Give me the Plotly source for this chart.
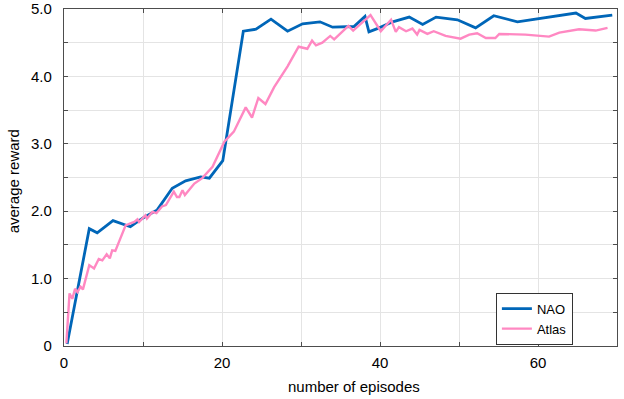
import plotly.graph_objects as go

nao_x = [0.4, 3.2, 4.2, 6.2, 8.4, 10.0, 11.8, 13.7, 15.4, 17.3, 18.4, 20.1, 22.7, 24.3, 26.2, 28.3, 30.2,
         32.4, 34.0, 36.7, 38.1, 38.6, 39.9, 41.6, 43.7, 45.4, 47.1, 49.8, 52.1, 54.4, 57.4, 64.8, 66.0, 69.4]
nao_y = [0.03, 1.74, 1.68, 1.86, 1.77, 1.90, 2.02, 2.34, 2.45, 2.51, 2.49, 2.75, 4.67, 4.70, 4.85, 4.67, 4.78,
         4.81, 4.73, 4.74, 4.89, 4.66, 4.72, 4.81, 4.88, 4.77, 4.88, 4.84, 4.72, 4.90, 4.81, 4.94, 4.86, 4.91]

atlas_x = [0.3, 0.7, 1.05, 1.4, 1.7, 2.1, 2.4, 3.2, 3.8, 4.4, 4.85, 5.4, 5.8, 6.1, 6.5, 7.8, 8.4, 8.9, 9.3, 9.5,
           10.3, 10.5, 11.2, 11.7, 12.4, 12.9, 13.9, 14.3, 14.6, 15.0, 15.3, 16.5, 17.5, 18.8, 20.3, 21.5, 23.0,
           23.8, 24.6, 25.5, 26.6, 28.3, 29.7, 30.8, 31.4, 31.9, 32.7, 33.7, 34.2, 36.0, 36.6, 38.8, 40.1, 41.4,
           42.0, 42.4, 43.3, 44.1, 44.7, 45.0, 46.0, 46.8, 48.3, 50.2, 51.3, 52.3, 53.4, 54.6, 55.1, 58.4, 61.4,
           62.7, 65.2, 67.3, 68.8]
atlas_y = [0.04, 0.78, 0.70, 0.85, 0.80, 0.88, 0.84, 1.20, 1.15, 1.29, 1.27, 1.36, 1.30, 1.42, 1.41, 1.79, 1.82,
           1.84, 1.88, 1.84, 1.94, 1.89, 1.99, 1.97, 2.07, 2.09, 2.29, 2.21, 2.21, 2.31, 2.24, 2.41, 2.49, 2.66,
           3.03, 3.18, 3.54, 3.39, 3.68, 3.59, 3.84, 4.15, 4.44, 4.41, 4.53, 4.46, 4.50, 4.60, 4.55, 4.75, 4.68,
           4.91, 4.67, 4.84, 4.66, 4.73, 4.67, 4.71, 4.62, 4.69, 4.63, 4.67, 4.60, 4.56, 4.62, 4.64, 4.57, 4.57,
           4.63, 4.62, 4.59, 4.65, 4.70, 4.68, 4.72]

x_tickvals = [0, 20, 40, 60]
x_ticktext = ["0", "20", "40", "60"]
y_tickvals = [0, 1, 2, 3, 4, 5]
y_ticktext = ["0", "1.0", "2.0", "3.0", "4.0", "5.0"]
x_title = "number of episodes"
y_title = "average reward"

FONT = "Liberation Sans, Arial, sans-serif"
GRID = "#e4e4e4"
AXIS = "#4d4d4d"

fig = go.Figure()
fig.add_trace(go.Scatter(x=nao_x, y=nao_y, mode="lines", name="NAO",
                         line=dict(color="#0066b8", width=2.8)))
fig.add_trace(go.Scatter(x=atlas_x, y=atlas_y, mode="lines", name="Atlas",
                         line=dict(color="#ff88c2", width=2.4)))

fig.update_layout(
    width=624, height=399,
    margin=dict(l=64, r=7, t=9, b=53, autoexpand=False),
    paper_bgcolor="white", plot_bgcolor="white",
    font=dict(family=FONT, color="black", size=15),
    showlegend=True,
    legend=dict(x=0.781, y=0.158, xanchor="left", yanchor="top",
                bgcolor="white", bordercolor="#333333", borderwidth=1,
                font=dict(size=13, family=FONT), tracegroupgap=0,
                itemwidth=30, traceorder="normal"),
    annotations=[
        dict(text=x_title, xref="paper", yref="paper", x=0.524, y=-0.119,
             xanchor="center", yanchor="middle", showarrow=False, font=dict(size=15)),
        dict(text=y_title, xref="paper", yref="paper", x=-0.0914, y=0.49,
             xanchor="center", yanchor="middle", showarrow=False, textangle=-90, font=dict(size=15)),
    ],
)
fig.update_xaxes(
    range=[0, 70], tickvals=x_tickvals, ticktext=x_ticktext,
    showgrid=True, gridcolor=GRID, gridwidth=1,
    minor=dict(dtick=10, tick0=0, showgrid=True, gridcolor=GRID, ticks="inside", ticklen=4, tickcolor=AXIS),
    ticks="inside", ticklen=4, tickcolor=AXIS,
    showline=True, linecolor=AXIS, linewidth=1.3, mirror="ticks",
    zeroline=False, automargin=False, ticklabelstandoff=3,
    tickfont=dict(size=15),
)
fig.update_yaxes(
    range=[0, 5], tickvals=y_tickvals, ticktext=y_ticktext,
    showgrid=True, gridcolor=GRID, gridwidth=1,
    minor=dict(dtick=0.5, tick0=0, showgrid=True, gridcolor=GRID, ticks="inside", ticklen=4, tickcolor=AXIS),
    ticks="inside", ticklen=4, tickcolor=AXIS,
    showline=True, linecolor=AXIS, linewidth=1.3, mirror="ticks",
    zeroline=False, automargin=False, ticklabelstandoff=8,
    tickfont=dict(size=15),
)

fig.write_html("out.html", config={"displayModeBar": False},
               post_script="document.body.style.margin='0';document.body.style.padding='0';")
